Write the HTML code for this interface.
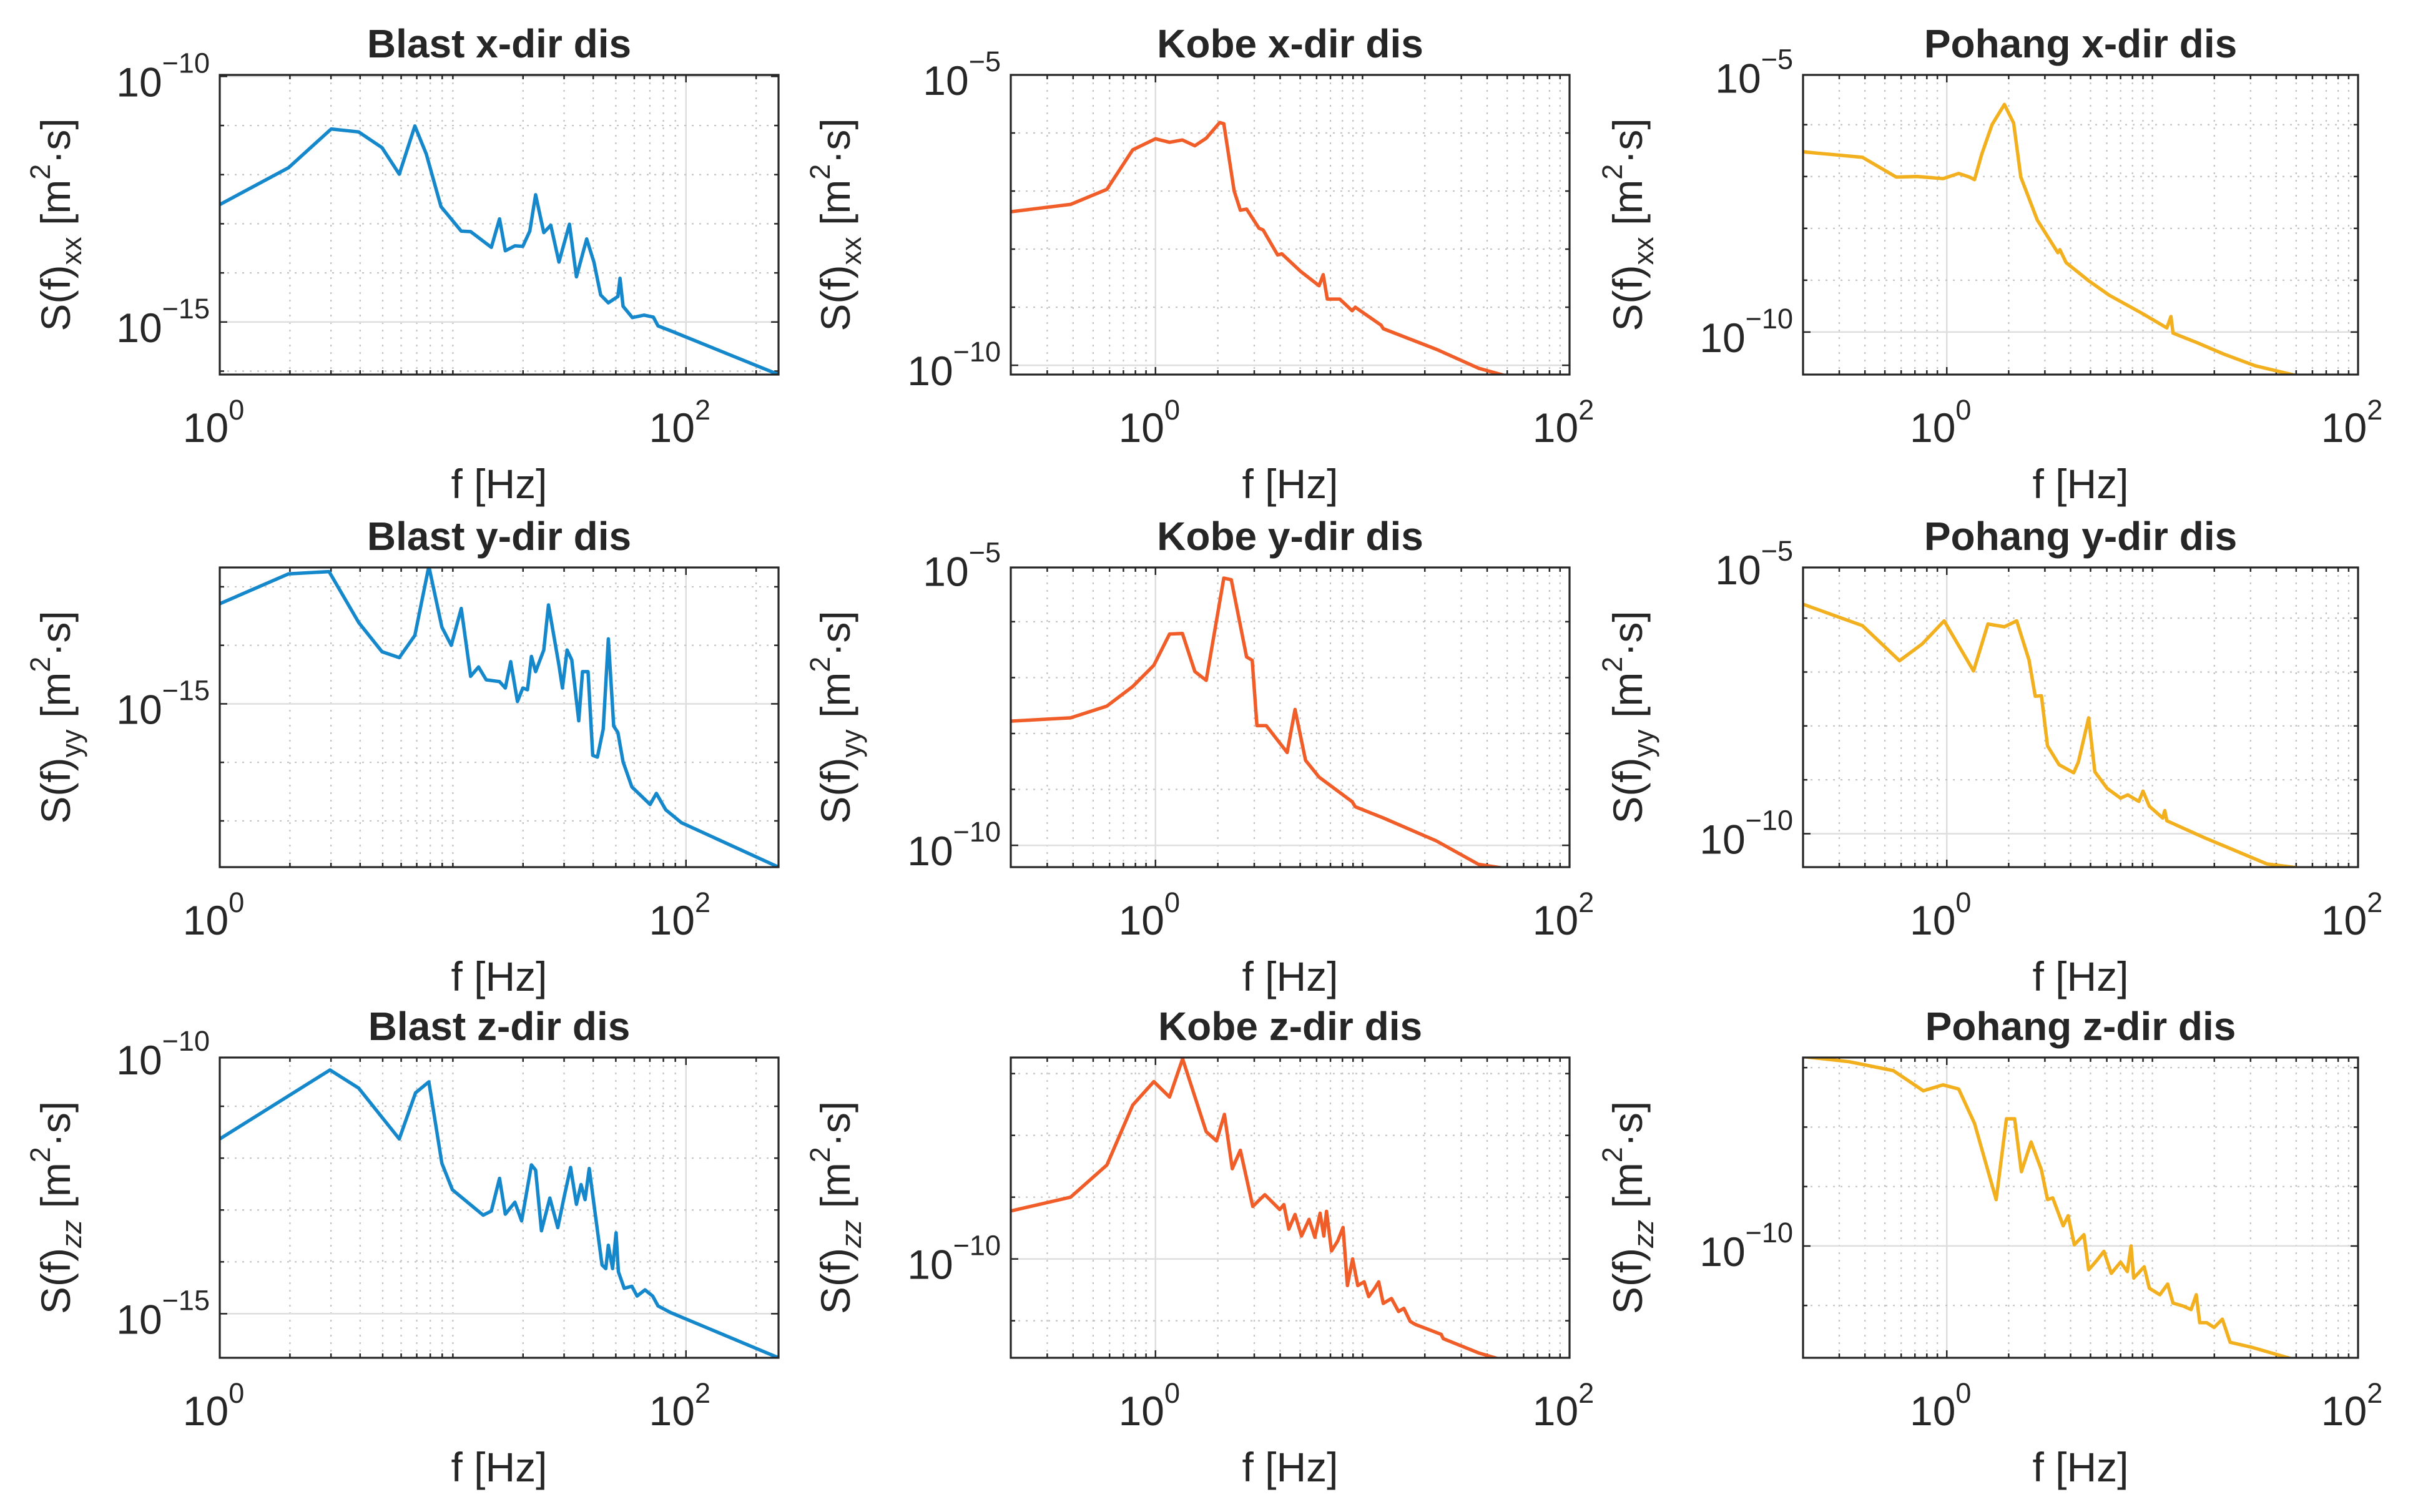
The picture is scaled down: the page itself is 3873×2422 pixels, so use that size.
<!DOCTYPE html>
<html><head><meta charset="utf-8"><title>PSD displacement</title>
<style>html,body{margin:0;padding:0;background:#fff}svg{display:block}text{font-family:"Liberation Sans",Arial,sans-serif;fill:#262626}</style>
</head><body>
<svg id="fig" width="3873" height="2422" viewBox="0 0 3873 2422" xmlns="http://www.w3.org/2000/svg"></svg>
<script>
// ---- data (log10 frequency, log10 spectral density) ----
const blastX_logF=[0,0.295,0.478,0.596,0.696,0.77,0.837,0.886,0.949,1.036,1.076,1.165,1.2,1.225,1.266,1.3,1.33,1.355,1.39,1.42,1.455,1.5,1.53,1.574,1.605,1.634,1.667,1.708,1.717,1.73,1.77,1.82,1.86,1.88,1.935,2.397];
const blastX_logS=[-12.61,-11.86,-11.07,-11.13,-11.45,-11.99,-11.01,-11.58,-12.65,-13.15,-13.16,-13.48,-12.9,-13.55,-13.45,-13.46,-13.15,-12.41,-13.18,-13.03,-13.78,-13.01,-14.08,-13.31,-13.78,-14.45,-14.61,-14.48,-14.11,-14.68,-14.91,-14.86,-14.9,-15.08,-15.18,-16.07];
const blastY_logF=[0,0.295,0.469,0.596,0.696,0.77,0.837,0.897,0.953,0.993,1.036,1.076,1.11,1.143,1.2,1.225,1.248,1.277,1.3,1.32,1.337,1.355,1.39,1.41,1.455,1.47,1.49,1.51,1.54,1.556,1.58,1.6,1.62,1.645,1.667,1.69,1.708,1.73,1.768,1.81,1.846,1.873,1.913,1.98,2.397];
const blastY_logS=[-13.29,-12.78,-12.74,-13.61,-14.11,-14.21,-13.83,-12.65,-13.69,-14.0,-13.37,-14.53,-14.37,-14.59,-14.62,-14.73,-14.28,-14.96,-14.73,-14.76,-14.19,-14.45,-14.08,-13.31,-14.34,-14.73,-14.08,-14.25,-15.29,-14.45,-14.45,-15.88,-15.91,-15.43,-13.89,-15.38,-15.49,-15.99,-16.42,-16.58,-16.72,-16.53,-16.81,-17.03,-17.79];
const blastZ_logF=[0,0.473,0.596,0.77,0.84,0.897,0.953,0.998,1.13,1.165,1.2,1.225,1.266,1.295,1.337,1.355,1.38,1.416,1.45,1.478,1.505,1.53,1.55,1.567,1.585,1.61,1.64,1.656,1.667,1.685,1.70,1.71,1.735,1.768,1.79,1.824,1.857,1.88,1.935,2.397];
const blastZ_logS=[-11.63,-10.30,-10.65,-11.63,-10.74,-10.53,-12.10,-12.61,-13.10,-13.02,-12.39,-13.08,-12.85,-13.21,-12.13,-12.23,-13.40,-12.77,-13.34,-12.73,-12.18,-12.89,-12.51,-12.80,-12.2,-13.05,-14.06,-14.13,-13.68,-14.13,-13.44,-14.19,-14.51,-14.47,-14.66,-14.54,-14.66,-14.85,-14.98,-15.85];
const kobeX_logF=[-0.707,-0.41,-0.235,-0.11,0,0.068,0.13,0.19,0.245,0.31,0.33,0.38,0.41,0.44,0.5,0.52,0.59,0.61,0.70,0.79,0.81,0.83,0.89,0.95,0.965,1.09,1.1,1.36,1.56,1.70];
const kobeX_logS=[-7.36,-7.23,-6.97,-6.29,-6.10,-6.16,-6.12,-6.22,-6.09,-5.82,-5.84,-7.0,-7.33,-7.31,-7.64,-7.67,-8.1,-8.08,-8.38,-8.63,-8.44,-8.86,-8.86,-9.06,-9.0,-9.31,-9.37,-9.73,-10.05,-10.19];
const kobeY_logF=[-0.707,-0.41,-0.235,-0.11,-0.008,0.068,0.13,0.19,0.245,0.33,0.366,0.44,0.467,0.49,0.535,0.636,0.674,0.725,0.79,0.95,0.965,1.1,1.356,1.56,1.7];
const kobeY_logS=[-7.78,-7.72,-7.51,-7.16,-6.78,-6.22,-6.21,-6.89,-7.05,-5.22,-5.25,-6.63,-6.69,-7.86,-7.86,-8.34,-7.57,-8.48,-8.78,-9.22,-9.31,-9.51,-9.92,-10.34,-10.42];
const kobeZ_logF=[-0.707,-0.41,-0.235,-0.11,-0.008,0.068,0.131,0.245,0.295,0.333,0.371,0.41,0.47,0.528,0.6,0.62,0.644,0.674,0.705,0.742,0.77,0.795,0.813,0.826,0.85,0.88,0.906,0.927,0.952,0.977,1.008,1.03,1.058,1.078,1.1,1.14,1.174,1.2,1.23,1.255,1.38,1.39,1.56,1.68];
const kobeZ_logS=[-9.23,-9.0,-8.48,-7.51,-7.13,-7.38,-6.76,-7.94,-8.09,-7.66,-8.54,-8.24,-9.15,-8.96,-9.20,-9.12,-9.52,-9.28,-9.63,-9.36,-9.65,-9.26,-9.63,-9.23,-9.87,-9.71,-9.49,-10.43,-10.0,-10.43,-10.37,-10.61,-10.48,-10.37,-10.72,-10.64,-10.85,-10.8,-11.01,-11.06,-11.22,-11.29,-11.52,-11.64];
const pohangX_logF=[-0.708,-0.41,-0.246,-0.145,-0.018,0.058,0.11,0.135,0.17,0.22,0.28,0.325,0.36,0.44,0.54,0.55,0.58,0.69,0.79,0.95,1.07,1.09,1.1,1.22,1.35,1.5,1.70];
const pohangX_logS=[-6.52,-6.63,-7.01,-7.0,-7.04,-6.94,-7.01,-7.06,-6.57,-6.0,-5.61,-5.97,-7.01,-7.84,-8.47,-8.41,-8.66,-9.01,-9.29,-9.64,-9.92,-9.70,-10.02,-10.21,-10.43,-10.65,-10.84];
const pohangY_logF=[-0.708,-0.41,-0.23,-0.12,-0.013,0.13,0.2,0.28,0.34,0.40,0.43,0.46,0.49,0.546,0.617,0.64,0.69,0.72,0.78,0.845,0.88,0.934,0.954,0.985,1.05,1.06,1.07,1.25,1.556,1.7];
const pohangY_logS=[-5.73,-6.14,-6.79,-6.48,-6.05,-6.98,-6.11,-6.16,-6.05,-6.78,-7.45,-7.44,-8.37,-8.72,-8.87,-8.67,-7.85,-8.85,-9.16,-9.34,-9.28,-9.40,-9.21,-9.49,-9.71,-9.57,-9.76,-10.07,-10.56,-10.63];
const pohangZ_logF=[-0.708,-0.475,-0.26,-0.114,-0.018,0.058,0.135,0.24,0.29,0.33,0.363,0.41,0.46,0.49,0.515,0.566,0.59,0.62,0.667,0.69,0.73,0.764,0.8,0.845,0.878,0.896,0.909,0.96,0.985,1.036,1.074,1.1,1.15,1.188,1.213,1.23,1.264,1.3,1.34,1.378,1.48,1.68];
const pohangZ_logS=[-6.81,-6.90,-7.05,-7.39,-7.29,-7.36,-7.94,-9.22,-7.86,-7.86,-8.75,-8.25,-8.72,-9.22,-9.19,-9.66,-9.49,-9.98,-9.81,-10.40,-10.24,-10.09,-10.46,-10.27,-10.43,-10.0,-10.54,-10.35,-10.71,-10.82,-10.64,-10.96,-11.01,-11.07,-10.82,-11.29,-11.29,-11.37,-11.23,-11.62,-11.70,-11.9];
const xTickExps=[0,2];
const blastYTickExps=[-15,-10];
const blastYyTickExps=[-15];
const kobeYTickExps=[-10,-5];
const zTickExps=[-10];

const NS="http://www.w3.org/2000/svg";
const svg=document.getElementById('fig');
function mk(tag,attrs,parent){const e=document.createElementNS(NS,tag);for(const k in attrs)e.setAttribute(k,attrs[k]);(parent||svg).appendChild(e);return e;}

const cols=[[352,1247],[1619,2514],[2888,3777]];
const rows=[[120,600],[909,1389],[1694,2175]];
const colors=['#1588cc','#f05d28','#f2b01e'];
const names=['Blast','Kobe','Pohang'];
const dirs=['x','y','z'];
const subs=['xx','yy','zz'];
const panels=[
 [ {f:blastX_logF,s:blastX_logS,y:[-16.07,-9.97],t:blastYTickExps,x:[0,2.397]},
   {f:kobeX_logF,s:kobeX_logS,y:[-10.16,-5.0],t:kobeYTickExps,x:[-0.699,2]},
   {f:pohangX_logF,s:pohangX_logS,y:[-10.82,-5.04],t:kobeYTickExps,x:[-0.699,2]} ],
 [ {f:blastY_logF,s:blastY_logS,y:[-17.79,-12.67],t:blastYyTickExps,x:[0,2.397]},
   {f:kobeY_logF,s:kobeY_logS,y:[-10.39,-5.03],t:kobeYTickExps,x:[-0.699,2]},
   {f:pohangY_logF,s:pohangY_logS,y:[-10.62,-5.06],t:kobeYTickExps,x:[-0.699,2]} ],
 [ {f:blastZ_logF,s:blastZ_logS,y:[-15.85,-10.06],t:blastYTickExps,x:[0,2.397]},
   {f:kobeZ_logF,s:kobeZ_logS,y:[-11.6,-6.74],t:zTickExps,x:[-0.699,2]},
   {f:pohangZ_logF,s:pohangZ_logS,y:[-11.88,-6.83],t:zTickExps,x:[-0.699,2]} ]
];

panels.forEach((row,ri)=>row.forEach((p,ci)=>{
  const [L,R]=cols[ci],[T,B]=rows[ri];
  const sx=v=>L+(v-p.x[0])/(p.x[1]-p.x[0])*(R-L);
  const sy=v=>B-(v-p.y[0])/(p.y[1]-p.y[0])*(B-T);
  const g=mk('g',{});
  
  
  const cid='clip'+ri+ci;
  const cp=mk('clipPath',{id:cid},g);mk('rect',{x:L,y:T,width:R-L,height:B-T},cp);
  mk('rect',{x:L,y:T,width:R-L,height:B-T,fill:'#fff'},g);
  const grid=mk('g',{},g);
  
  
  for(let d=Math.floor(p.x[0]);d<=Math.ceil(p.x[1]);d++){
    for(let m=1;m<10;m++){
      const v=d+Math.log10(m);
      if(v<p.x[0]-1e-6||v>p.x[1]+1e-6)continue;
      const x=sx(v);
      const major=(m===1&&xTickExps.includes(d));
      if(major){mk('line',{x1:x,y1:T,x2:x,y2:B,stroke:'#dedede','stroke-width':2.5},grid);}
      else{mk('line',{x1:x,y1:T,x2:x,y2:B,stroke:'#c4c4c4','stroke-width':2.2,'stroke-dasharray':'3 9'},grid);}
      const tl=major?12:7;
      mk('line',{x1:x,y1:B,x2:x,y2:B-tl,stroke:'#262626','stroke-width':2.5},g);
      mk('line',{x1:x,y1:T,x2:x,y2:T+tl,stroke:'#262626','stroke-width':2.5},g);
    }
  }
  for(let d=Math.ceil(p.y[0]);d<=Math.floor(p.y[1]);d++){
    const y=sy(d);
    const major=p.t.includes(d);
    if(major)mk('line',{x1:L,y1:y,x2:R,y2:y,stroke:'#dedede','stroke-width':2.5},grid);
    else mk('line',{x1:L,y1:y,x2:R,y2:y,stroke:'#c4c4c4','stroke-width':2.2,'stroke-dasharray':'3 9'},grid);
    const tl=major?12:7;
    mk('line',{x1:L,y1:y,x2:L+tl,y2:y,stroke:'#262626','stroke-width':2.5},g);
    mk('line',{x1:R,y1:y,x2:R-tl,y2:y,stroke:'#262626','stroke-width':2.5},g);
  }
  const pts=p.f.map((f,i)=>sx(f).toFixed(1)+','+sy(p.s[i]).toFixed(1)).join(' ');
  const line=mk('polyline',{points:pts,fill:'none',stroke:colors[ci],'stroke-width':5.5,'stroke-linejoin':'round','clip-path':'url(#'+cid+')'},g);
  
  
  mk('rect',{x:L,y:T,width:R-L,height:B-T,fill:'none',stroke:'#262626','stroke-width':3.2},g);
  const tt=mk('text',{x:(L+R)/2,y:T-28,'text-anchor':'middle','font-size':64,'font-weight':'bold',fill:'#000'},g);
  tt.textContent=names[ci]+' '+dirs[ri]+'-dir dis';
  
  
  xTickExps.forEach(e=>{
    if(e<p.x[0]-1e-6||e>p.x[1]+1e-6)return;
    const x=sx(e);
    const t=mk('text',{x:x-10,y:B+108,'text-anchor':'middle','font-size':66},g);
    t.textContent='10';
    const s=mk('tspan',{dy:-36,'font-size':45},t);s.textContent=String(e);
    
    
  });
  p.t.forEach(e=>{
    const y=sy(e);
    const t=mk('text',{x:L-16,y:y+32,'text-anchor':'end','font-size':66},g);
    const a=mk('tspan',{},t);a.textContent='10';
    const s=mk('tspan',{dy:-38,'font-size':45},t);s.textContent='\u2212'+String(-e);
    
    
  });
  const xl=mk('text',{x:(L+R)/2,y:B+198,'text-anchor':'middle','font-size':66},g);
  xl.textContent='f [Hz]';
  
  
  const cx=L-(ci===0?240:258), cy=(T+B)/2;
  const yl=mk('text',{x:0,y:0,'text-anchor':'middle','font-size':66,transform:'translate('+cx+','+cy+') rotate(-90)'},g);
  const a=mk('tspan',{},yl);a.textContent='S(f)';
  const b=mk('tspan',{dy:18,'font-size':45,'font-style':ri===2?'italic':'normal'},yl);b.textContent=subs[ri];
  const c=mk('tspan',{dy:-18},yl);c.textContent='  [m';
  const d2=mk('tspan',{dy:-32,'font-size':45},yl);d2.textContent='2';
  const e2=mk('tspan',{dy:32},yl);e2.textContent='\u00b7s]';
  
  
}));
</script>
</body></html>
